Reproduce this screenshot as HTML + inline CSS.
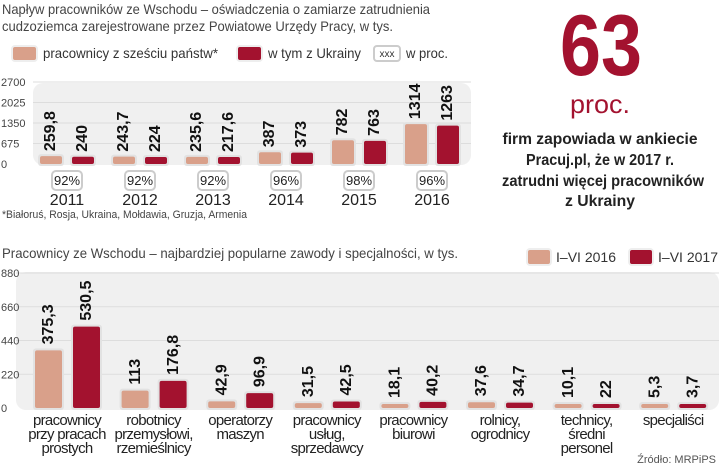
<!DOCTYPE html>
<html><head><meta charset="utf-8"><style>
body{margin:0;background:#fff;width:720px;height:467px;overflow:hidden;font-family:"Liberation Sans",sans-serif}
svg{position:absolute;left:0;top:0}
</style></head><body>
<svg id="c" width="720" height="467">
<text x="2" y="14" font-size="14" fill="#444" textLength="428" lengthAdjust="spacingAndGlyphs">Napływ pracowników ze Wschodu – oświadczenia o zamiarze zatrudnienia</text>
<text x="2" y="31" font-size="14" fill="#444" textLength="391" lengthAdjust="spacingAndGlyphs">cudzoziemca zarejestrowane przez Powiatowe Urzędy Pracy, w tys.</text>
<g>
<rect x="12" y="46" width="25" height="15" rx="3" fill="#d9a08a" stroke="#eee" stroke-width="2"/>
<text x="43" y="58" font-size="14" fill="#333" textLength="175" lengthAdjust="spacingAndGlyphs">pracownicy z sześciu państw*</text>
<rect x="237" y="46" width="25" height="15" rx="3" fill="#a3122f" stroke="#eee" stroke-width="2"/>
<text x="268" y="58" font-size="14" fill="#333" textLength="93" lengthAdjust="spacingAndGlyphs">w tym z Ukrainy</text>
<rect x="374" y="46" width="26" height="15" rx="3" fill="#fff" stroke="#ccc" stroke-width="2"/>
<text x="387" y="57" font-size="10" fill="#333" text-anchor="middle">xxx</text>
<text x="406" y="58" font-size="14" fill="#333" textLength="42" lengthAdjust="spacingAndGlyphs">w proc.</text>
</g>
<rect x="33" y="83" width="438" height="82" rx="10" fill="#f0f0f0"/>
<g id="top"></g>
<text x="2" y="218" font-size="11" fill="#444" textLength="245" lengthAdjust="spacingAndGlyphs">*Białoruś, Rosja, Ukraina, Mołdawia, Gruzja, Armenia</text>
<text x="601" y="75" font-size="86" font-weight="bold" fill="#a3122f" text-anchor="middle" textLength="82" lengthAdjust="spacingAndGlyphs">63</text>
<text x="600" y="113" font-size="26" fill="#a3122f" text-anchor="middle" textLength="60" lengthAdjust="spacingAndGlyphs">proc.</text>
<g font-size="16" font-weight="bold" fill="#222" text-anchor="middle">
<text x="600" y="144" textLength="195" lengthAdjust="spacingAndGlyphs">firm zapowiada w ankiecie</text>
<text x="600" y="165" textLength="148" lengthAdjust="spacingAndGlyphs">Pracuj.pl, że w 2017 r.</text>
<text x="603" y="186" textLength="202" lengthAdjust="spacingAndGlyphs">zatrudni więcej pracowników</text>
<text x="600" y="206" textLength="70" lengthAdjust="spacingAndGlyphs">z Ukrainy</text>
</g>
<text x="2" y="258" font-size="14" fill="#444" textLength="456" lengthAdjust="spacingAndGlyphs">Pracownicy ze Wschodu – najbardziej popularne  zawody i specjalności, w tys.</text>
<g>
<rect x="527" y="249" width="24" height="16" rx="3" fill="#d9a08a" stroke="#eee" stroke-width="2"/>
<text x="556" y="262" font-size="14" fill="#333" textLength="60" lengthAdjust="spacingAndGlyphs">I–VI 2016</text>
<rect x="629" y="249" width="24" height="16" rx="3" fill="#a3122f" stroke="#eee" stroke-width="2"/>
<text x="658" y="262" font-size="14" fill="#333" textLength="60" lengthAdjust="spacingAndGlyphs">I–VI 2017</text>
</g>
<rect x="16" y="272" width="703" height="138" rx="10" fill="#f0f0f0"/>
<g id="bot"></g>
<text x="716" y="463" font-size="11" fill="#555" text-anchor="end">Źródło: MRPiPS</text>
</svg>
<script>
const topYears=["2011","2012","2013","2014","2015","2016"];
const topAll=[259.8,243.7,235.6,387,782,1314];
const topUkr=[240,224,217.6,373,763,1263];
const topAllLbl=["259,8","243,7","235,6","387","782","1314"];
const topUkrLbl=["240","224","217,6","373","763","1263"];
const topPct=["92%","92%","92%","96%","98%","96%"];
const topTicks=[0,675,1350,2025,2700];
const botCats=[["pracownicy","przy pracach","prostych"],["robotnicy","przemysłowi,","rzemieślnicy"],["operatorzy","maszyn"],["pracownicy","usług,","sprzedawcy"],["pracownicy","biurowi"],["rolnicy,","ogrodnicy"],["technicy,","średni","personel"],["specjaliści"]];
const bot2016=[375.3,113,42.9,31.5,18.1,37.6,10.1,5.3];
const bot2017=[530.5,176.8,96.9,42.5,40.2,34.7,22,3.7];
const bot2016Lbl=["375,3","113","42,9","31,5","18,1","37,6","10,1","5,3"];
const bot2017Lbl=["530,5","176,8","96,9","42,5","40,2","34,7","22","3,7"];
const botTicks=[0,220,440,660,880];
const NS="http://www.w3.org/2000/svg";
function mk(p,t,a,txt){const e=document.createElementNS(NS,t);for(const k in a)e.setAttribute(k,a[k]);if(txt!=null)e.textContent=txt;p.appendChild(e);return e;}
const LIGHT="#d9a08a",DARK="#a3122f";
function bar(g,x,w,top,bottom,fill,name){
  const b=mk(g,'rect',{x:x-2,y:top-2,width:w+4,height:bottom-top+4,rx:3,fill:'#e2e2e2'});
  
  
  const r=mk(g,'rect',{x:x,y:top,width:w,height:bottom-top,rx:2,fill:fill});
  
  
}
function vlabel(g,x,y,txt,fs,name){
  const t=mk(g,'text',{x:0,y:0,transform:`translate(${x},${y}) rotate(-90)`,'font-size':fs,'font-weight':'bold',fill:'#111','dominant-baseline':'middle'},txt);
  
  
}
const tg=document.getElementById('top');
const ty0=164,tyTop=82,tMax=2700;
const ty=v=>ty0-(v/tMax)*(ty0-tyTop);
topTicks.forEach(v=>{
  const y=ty(v);
  if(v>0){const l=mk(tg,'line',{x1:33,x2:471,y1:y,y2:y,stroke:'#ddd','stroke-width':1});
  
  }
  const t=mk(tg,'text',{x:1,y:y+4,'font-size':11,fill:'#444'},String(v));
  
  
});
topYears.forEach((yr,i)=>{
  const c=67+73*i;
  const t1=Math.min(ty(topAll[i]),ty0-7),t2=Math.min(ty(topUkr[i]),ty0-7);
  bar(tg,c-27,22,t1,ty0,LIGHT,'bar-all-'+yr);
  bar(tg,c+5,22,t2,ty0,DARK,'bar-ukraine-'+yr);
  vlabel(tg,c-16,t1-5,topAllLbl[i],16,'value-all-'+yr);
  vlabel(tg,c+16,t2-5,topUkrLbl[i],16,'value-ukraine-'+yr);
  const pb=mk(tg,'rect',{x:c-15,y:171,width:30,height:19,rx:4,fill:'#fff',stroke:'#ccc','stroke-width':2});
  
  
  const pt=mk(tg,'text',{x:c,y:185,'font-size':13,fill:'#222','text-anchor':'middle'},topPct[i]);
  
  
  const yt=mk(tg,'text',{x:c,y:205,'font-size':16,fill:'#222','text-anchor':'middle'},yr);
  
  
});
const bg=document.getElementById('bot');
const by0=408,byTop=273,bMax=880;
const by=v=>by0-(v/bMax)*(by0-byTop);
botTicks.forEach(v=>{
  const y=by(v);
  if(v>0){const l=mk(bg,'line',{x1:16,x2:719,y1:y,y2:y,stroke:'#ddd','stroke-width':1});
  
  }
  const t=mk(bg,'text',{x:1,y:y+4,'font-size':11,fill:'#444'},String(v));
  
  
});
botCats.forEach((lines,i)=>{
  const c=67+86.6*i;
  const t1=Math.min(by(bot2016[i]),by0-4),t2=Math.min(by(bot2017[i]),by0-4);
  bar(bg,c-32,27,t1,by0,LIGHT,'bar-2016-'+i);
  bar(bg,c+6,27,t2,by0,DARK,'bar-2017-'+i);
  vlabel(bg,c-18,t1-6,bot2016Lbl[i],16,'value-2016-'+i);
  vlabel(bg,c+20,t2-6,bot2017Lbl[i],16,'value-2017-'+i);
  const t=mk(bg,'text',{x:c,y:425,'font-size':15,fill:'#222','text-anchor':'middle','letter-spacing':'-0.7'});
  
  
  lines.forEach((s,j)=>mk(t,'tspan',{x:c,dy:j?14:0},s));
});
</script>
</body></html>
